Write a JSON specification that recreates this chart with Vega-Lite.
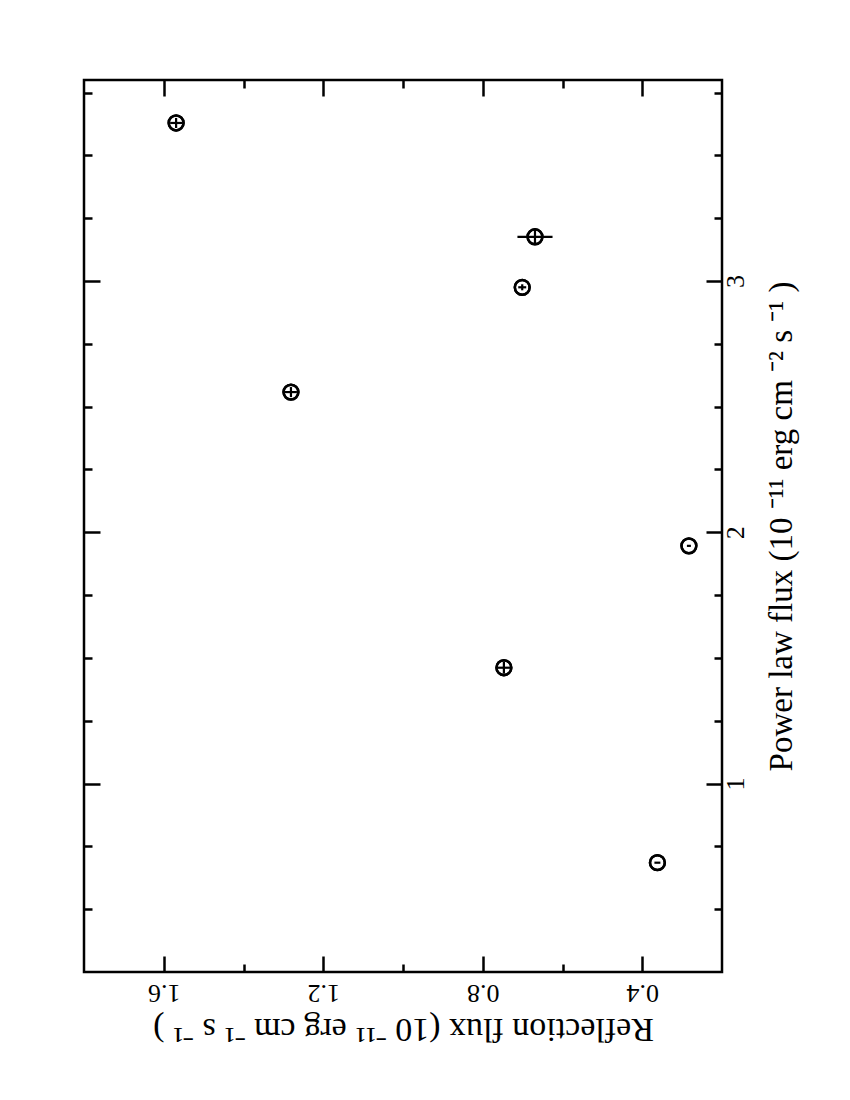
{
  "$schema": "https://vega.github.io/schema/vega-lite/v6.json",
  "width": 638,
  "height": 892,
  "padding": {"left": 82, "top": 78, "right": 5, "bottom": 5},
  "autosize": {"type": "pad"},
  "background": "white",
  "config": {
    "view": {"stroke": "black", "strokeWidth": 2.5},
    "font": "Liberation Serif",
    "axis": {
      "domain": false,
      "grid": false,
      "tickColor": "black",
      "tickWidth": 2.5,
      "labelFont": "Liberation Serif",
      "titleFont": "Liberation Serif",
      "labelColor": "black",
      "titleColor": "black",
      "titleFontWeight": "normal",
      "labelFontSize": 26,
      "titleFontSize": 33
    }
  },
  "data": {
    "values": [
      {"refl": 1.569, "pow": 3.629, "xlo": 1.554, "xhi": 1.584, "ylo": 3.609, "yhi": 3.649},
      {"refl": 1.281, "pow": 2.558, "xlo": 1.266, "xhi": 1.296, "ylo": 2.538, "yhi": 2.578},
      {"refl": 0.669, "pow": 3.176, "xlo": 0.625, "xhi": 0.713, "ylo": 3.144, "yhi": 3.208},
      {"refl": 0.701, "pow": 2.975, "xlo": 0.691, "xhi": 0.711, "ylo": 2.963, "yhi": 2.987},
      {"refl": 0.747, "pow": 1.461, "xlo": 0.731, "xhi": 0.763, "ylo": 1.437, "yhi": 1.485},
      {"refl": 0.283, "pow": 1.946, "xlo": 0.278, "xhi": 0.288, "ylo": 1.946, "yhi": 1.946},
      {"refl": 0.362, "pow": 0.685, "xlo": 0.3545, "xhi": 0.3695, "ylo": 0.685, "yhi": 0.685}
    ]
  },
  "resolve": {"axis": {"x": "independent", "y": "independent"}},
  "layer": [
    {
      "mark": {"type": "rule", "color": "black", "strokeWidth": 2.2},
      "encoding": {
        "x": {
          "field": "xlo", "type": "quantitative",
          "scale": {"domain": [0.2, 1.8], "reverse": true, "nice": false, "zero": false},
          "axis": {
            "orient": "bottom",
            "values": [0.4, 0.8, 1.2, 1.6],
            "format": ".1f",
            "tickSize": -16,
            "labelAngle": 180,
            "labelPadding": 23,
            "title": "Reflection flux (10 ⁻¹¹  erg cm ⁻¹  s ⁻¹ )",
            "titleAngle": 180,
            "titleBaseline": "bottom",
            "titleFontSize": 34,
            "titlePadding": 6
          }
        },
        "x2": {"field": "xhi"},
        "y": {
          "field": "pow", "type": "quantitative",
          "scale": {"domain": [0.25, 3.8], "nice": false, "zero": false},
          "axis": {
            "orient": "right",
            "values": [1, 2, 3],
            "format": "d",
            "tickSize": -16,
            "labelAngle": 270,
            "labelPadding": 16,
            "title": "Power law flux (10 ⁻¹¹ erg cm ⁻² s ⁻¹ )",
            "titleAngle": 270,
            "titleBaseline": "top",
            "titlePadding": 17
          }
        }
      }
    },
    {
      "mark": {"type": "rule", "color": "black", "strokeWidth": 2.2},
      "encoding": {
        "x": {
          "field": "refl", "type": "quantitative",
          "axis": {"orient": "bottom", "values": [0.6, 1.0, 1.4], "labels": false, "tickSize": -8, "title": null}
        },
        "y": {
          "field": "ylo", "type": "quantitative",
          "axis": {"orient": "right", "values": [0.5, 0.75, 1.25, 1.5, 1.75, 2.25, 2.5, 2.75, 3.25, 3.5, 3.75], "labels": false, "tickSize": -8, "title": null}
        },
        "y2": {"field": "yhi"}
      }
    },
    {
      "mark": {"type": "point", "shape": "circle", "filled": false, "color": "black", "strokeWidth": 2.5, "size": 220, "opacity": 1},
      "encoding": {
        "x": {
          "field": "refl", "type": "quantitative",
          "axis": {"orient": "top", "values": [0.4, 0.8, 1.2, 1.6], "labels": false, "tickSize": -16, "title": null}
        },
        "y": {
          "field": "pow", "type": "quantitative",
          "axis": {"orient": "left", "values": [1, 2, 3], "labels": false, "tickSize": -16, "title": null}
        }
      }
    },
    {
      "mark": {"type": "point", "shape": "circle", "filled": false, "color": "black", "strokeWidth": 2.5, "size": 220, "opacity": 1},
      "encoding": {
        "x": {
          "field": "refl", "type": "quantitative",
          "axis": {"orient": "top", "values": [0.6, 1.0, 1.4], "labels": false, "tickSize": -8, "title": null}
        },
        "y": {
          "field": "pow", "type": "quantitative",
          "axis": {"orient": "left", "values": [0.5, 0.75, 1.25, 1.5, 1.75, 2.25, 2.5, 2.75, 3.25, 3.5, 3.75], "labels": false, "tickSize": -8, "title": null}
        }
      }
    }
  ]
}
